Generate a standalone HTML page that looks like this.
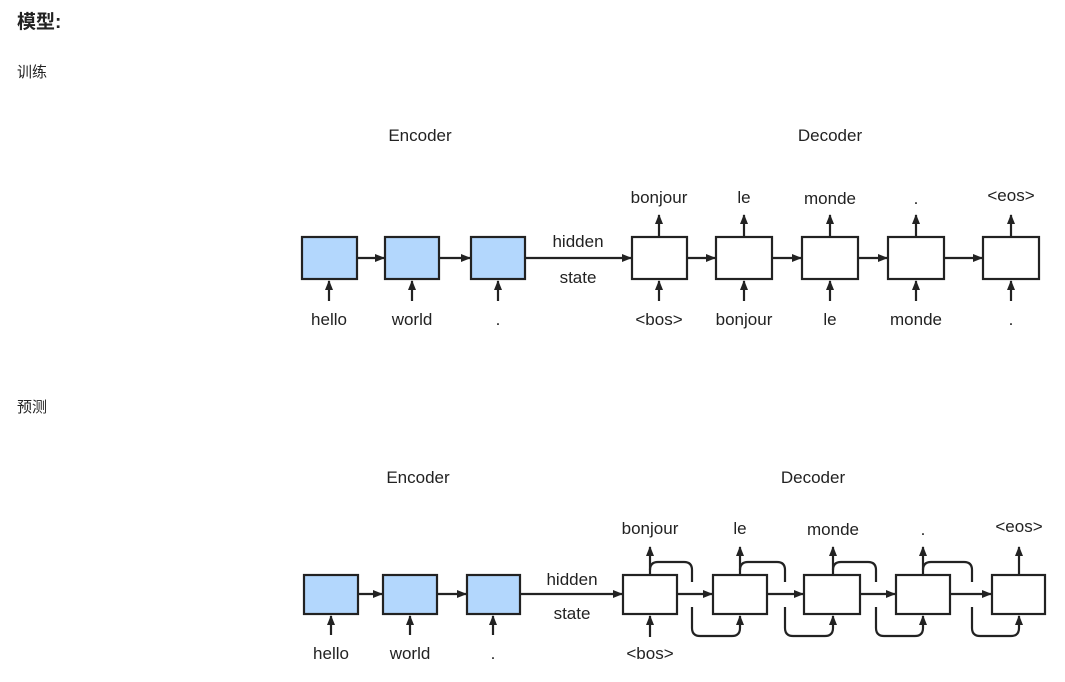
<!DOCTYPE html>
<html><head><meta charset="utf-8"><style>
html,body{margin:0;padding:0;background:#fff;width:1065px;height:682px;overflow:hidden}
svg{position:absolute;left:0;top:0}
.cjk{font-family:"Liberation Sans","Noto Sans CJK SC",sans-serif;fill:#222}
text.l{font-family:"Liberation Sans",sans-serif;font-size:17px;fill:#222;text-anchor:middle}
</style></head><body>
<svg width="1065" height="682" viewBox="0 0 1065 682">
<defs><marker id="a" markerWidth="10" markerHeight="8" refX="9" refY="4" orient="auto" markerUnits="userSpaceOnUse"><path d="M0,0 L10,4 L0,8 z" fill="#222"/></marker></defs>
<text class="cjk" x="17" y="28" font-size="19" font-weight="bold">模型:</text>
<text class="cjk" x="17" y="77" font-size="15">训练</text>
<text class="cjk" x="17" y="412" font-size="15">预测</text>
<g stroke="#222" stroke-width="2.2" fill="none">
<!-- top -->
<rect x="302" y="237" width="55" height="42" fill="#b3d7fd"/>
<rect x="385" y="237" width="54" height="42" fill="#b3d7fd"/>
<rect x="471" y="237" width="54" height="42" fill="#b3d7fd"/>
<rect x="632" y="237" width="55" height="42" fill="#fff"/>
<rect x="716" y="237" width="56" height="42" fill="#fff"/>
<rect x="802" y="237" width="56" height="42" fill="#fff"/>
<rect x="888" y="237" width="56" height="42" fill="#fff"/>
<rect x="983" y="237" width="56" height="42" fill="#fff"/>
<g marker-end="url(#a)">
<line x1="357" y1="258" x2="384" y2="258"/><line x1="439" y1="258" x2="470" y2="258"/>
<line x1="525" y1="258" x2="631" y2="258"/><line x1="687" y1="258" x2="715" y2="258"/>
<line x1="772" y1="258" x2="801" y2="258"/><line x1="858" y1="258" x2="887" y2="258"/>
<line x1="944" y1="258" x2="982" y2="258"/>
<line x1="329" y1="301" x2="329" y2="281"/><line x1="412" y1="301" x2="412" y2="281"/>
<line x1="498" y1="301" x2="498" y2="281"/><line x1="659" y1="301" x2="659" y2="281"/>
<line x1="744" y1="301" x2="744" y2="281"/><line x1="830" y1="301" x2="830" y2="281"/>
<line x1="916" y1="301" x2="916" y2="281"/><line x1="1011" y1="301" x2="1011" y2="281"/>
<line x1="659" y1="237" x2="659" y2="215"/><line x1="744" y1="237" x2="744" y2="215"/>
<line x1="830" y1="237" x2="830" y2="215"/><line x1="916" y1="237" x2="916" y2="215"/>
<line x1="1011" y1="237" x2="1011" y2="215"/>
</g>
<!-- bottom -->
<rect x="304" y="575" width="54" height="39" fill="#b3d7fd"/>
<rect x="383" y="575" width="54" height="39" fill="#b3d7fd"/>
<rect x="467" y="575" width="53" height="39" fill="#b3d7fd"/>
<rect x="623" y="575" width="54" height="39" fill="#fff"/>
<rect x="713" y="575" width="54" height="39" fill="#fff"/>
<rect x="804" y="575" width="56" height="39" fill="#fff"/>
<rect x="896" y="575" width="54" height="39" fill="#fff"/>
<rect x="992" y="575" width="53" height="39" fill="#fff"/>
<g marker-end="url(#a)">
<line x1="358" y1="594" x2="382" y2="594"/><line x1="437" y1="594" x2="466" y2="594"/>
<line x1="520" y1="594" x2="622" y2="594"/><line x1="677" y1="594" x2="712" y2="594"/>
<line x1="767" y1="594" x2="803" y2="594"/><line x1="860" y1="594" x2="895" y2="594"/>
<line x1="950" y1="594" x2="991" y2="594"/>
<line x1="331" y1="635" x2="331" y2="616"/><line x1="410" y1="635" x2="410" y2="616"/>
<line x1="493" y1="635" x2="493" y2="616"/><line x1="650" y1="637" x2="650" y2="616"/>
<line x1="650" y1="575" x2="650" y2="547"/><line x1="740" y1="575" x2="740" y2="547"/>
<line x1="833" y1="575" x2="833" y2="547"/><line x1="923" y1="575" x2="923" y2="547"/>
<line x1="1019" y1="575" x2="1019" y2="547"/>
<path d="M692,607 L692,628 Q692,636 700,636 L732,636 Q740,636 740,628 L740,616"/>
<path d="M785,607 L785,628 Q785,636 793,636 L825,636 Q833,636 833,628 L833,616"/>
<path d="M876,607 L876,628 Q876,636 884,636 L915,636 Q923,636 923,628 L923,616"/>
<path d="M972,607 L972,628 Q972,636 980,636 L1011,636 Q1019,636 1019,628 L1019,616"/>
</g>
<path d="M650,570 Q650,562 658,562 L684,562 Q692,562 692,570 L692,582"/>
<path d="M740,570 Q740,562 748,562 L777,562 Q785,562 785,570 L785,582"/>
<path d="M833,570 Q833,562 841,562 L868,562 Q876,562 876,570 L876,582"/>
<path d="M923,570 Q923,562 931,562 L964,562 Q972,562 972,570 L972,582"/>
</g>
<!-- top labels -->
<text class="l" x="420" y="141">Encoder</text>
<text class="l" x="830" y="141">Decoder</text>
<text class="l" x="578" y="247">hidden</text>
<text class="l" x="578" y="283">state</text>
<text class="l" x="659" y="203">bonjour</text>
<text class="l" x="744" y="203">le</text>
<text class="l" x="830" y="204">monde</text>
<text class="l" x="916" y="204">.</text>
<text class="l" x="1011" y="201">&lt;eos&gt;</text>
<text class="l" x="329" y="325">hello</text>
<text class="l" x="412" y="325">world</text>
<text class="l" x="498" y="325">.</text>
<text class="l" x="659" y="325">&lt;bos&gt;</text>
<text class="l" x="744" y="325">bonjour</text>
<text class="l" x="830" y="325">le</text>
<text class="l" x="916" y="325">monde</text>
<text class="l" x="1011" y="325">.</text>
<!-- bottom labels -->
<text class="l" x="418" y="483">Encoder</text>
<text class="l" x="813" y="483">Decoder</text>
<text class="l" x="572" y="585">hidden</text>
<text class="l" x="572" y="619">state</text>
<text class="l" x="650" y="534">bonjour</text>
<text class="l" x="740" y="534">le</text>
<text class="l" x="833" y="535">monde</text>
<text class="l" x="923" y="535">.</text>
<text class="l" x="1019" y="532">&lt;eos&gt;</text>
<text class="l" x="331" y="659">hello</text>
<text class="l" x="410" y="659">world</text>
<text class="l" x="493" y="659">.</text>
<text class="l" x="650" y="659">&lt;bos&gt;</text>
</svg>
</body></html>
